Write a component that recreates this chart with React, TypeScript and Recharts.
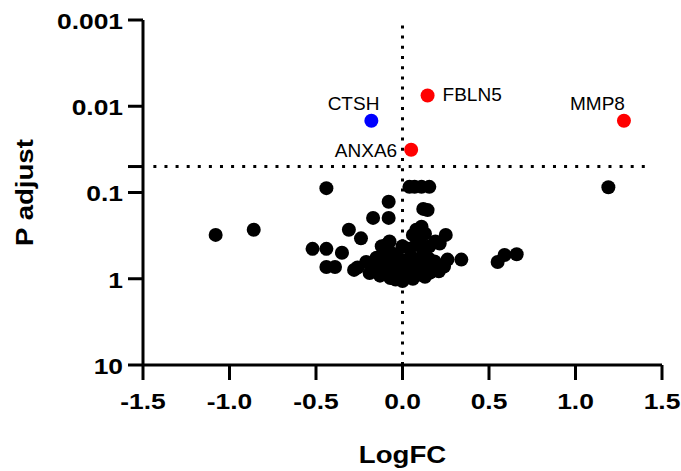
import { ReferenceLine, Scatter, ScatterChart, XAxis, YAxis } from "recharts";

// all genes (LogFC, adjusted p)
const logFC = [
  -1.08, -0.86, -0.44, 1.19, 0.04, 0.07, 0.11, 0.155, 0.12, 0.145,
  -0.08, -0.17, -0.08, -0.31, -0.24, -0.52, -0.44, -0.35, -0.44, -0.39,
  0.55, 0.59, 0.66, 0.26, 0.34, 0.25, 0.11, 0.08, 0.19, 0.215,
  0.155, 0.06, -0.075, -0.09, 0.185, -0.28, -0.19, -0.26, -0.21, -0.15,
  -0.16, -0.14, -0.13, -0.11, -0.1, -0.09, -0.08, -0.07, -0.06, -0.05,
  -0.04, -0.04, -0.03, -0.02, -0.01, 0.0, 0.01, 0.04, 0.02, 0.03,
  0.04, 0.05, 0.06, 0.07, 0.08, 0.09, 0.1, 0.11, 0.12, 0.13,
  0.14, 0.15, 0.16, 0.18, 0.21, 0.24, 0.1, 0.13, -0.12, 0.0,
];
const pAdjust = [
  0.31, 0.27, 0.089, 0.087, 0.086, 0.086, 0.086, 0.086, 0.155, 0.16,
  0.128, 0.197, 0.197, 0.27, 0.34, 0.45, 0.45, 0.5, 0.73, 0.73,
  0.64, 0.53, 0.52, 0.6, 0.6, 0.31, 0.25, 0.27, 0.37, 0.39,
  0.42, 0.31, 0.37, 0.4, 0.63, 0.79, 0.86, 0.74, 0.64, 0.57,
  0.8, 0.68, 0.92, 0.75, 0.55, 0.86, 0.47, 0.98, 0.66, 0.8,
  1.02, 0.52, 0.72, 0.9, 0.6, 1.06, 0.82, 0.45, 0.96, 0.68,
  0.88, 0.55, 1.0, 0.74, 0.4, 0.9, 0.62, 0.8, 0.48, 0.95,
  0.7, 0.58, 0.85, 0.76, 0.82, 0.72, 0.34, 0.3, 0.42, 0.42,
];

// highlighted genes
const geneNames = ["CTSH", "FBLN5", "MMP8", "ANXA6"];
const geneLogFC = [-0.18, 0.145, 1.28, 0.05];
const genePAdjust = [0.0147, 0.0075, 0.0147, 0.032];

const xTicks = [-1.5, -1.0, -0.5, 0.0, 0.5, 1.0, 1.5];
const yTicks = [0.001, 0.01, 0.05, 0.1, 1, 10];
const pCutoff = 0.05;

const FONT = '"Liberation Sans", Arial, sans-serif';
const STRETCH = 1.2;

// where each gene label sits relative to its dot
const labelPlace: Record<string, { dx: number; dy: number; anchor: "start" | "end" }> = {
  CTSH: { dx: 8, dy: -11, anchor: "end" },
  FBLN5: { dx: 15, dy: 6, anchor: "start" },
  MMP8: { dx: 1, dy: -11, anchor: "end" },
  ANXA6: { dx: -14, dy: 7, anchor: "end" },
};

const allData = logFC.map((x, i) => ({ x, p: pAdjust[i] }));
const geneData = geneNames.map((gene, i) => ({ gene, x: geneLogFC[i], p: genePAdjust[i] }));

function XTick({ x, y, payload }: any) {
  return (
    <g transform={`translate(${x},${y}) scale(${STRETCH},1)`}>
      <text textAnchor="middle" dy="0.72em" fontFamily={FONT} fontWeight="bold" fontSize={22} fill="#000">
        {Number(payload.value).toFixed(1)}
      </text>
    </g>
  );
}

function YTick({ x, y, payload }: any) {
  if (payload.value === pCutoff) return <g />;
  return (
    <g transform={`translate(${x},${y}) scale(${STRETCH},1)`}>
      <text textAnchor="end" dy="0.4em" fontFamily={FONT} fontWeight="bold" fontSize={22} fill="#000">
        {String(payload.value)}
      </text>
    </g>
  );
}

const blackDot = ({ cx, cy }: any) => <circle cx={cx} cy={cy} r={7} fill="#000" />;

const geneDot = ({ cx, cy, payload }: any) => {
  const pl = labelPlace[payload.gene];
  return (
    <g>
      <circle cx={cx} cy={cy} r={7} fill={payload.x < 0 ? "#0000ff" : "#ff0000"} />
      <text x={cx + pl.dx} y={cy + pl.dy} textAnchor={pl.anchor} fontFamily={FONT} fontSize={19} fill="#000">
        {payload.gene}
      </text>
    </g>
  );
};

const axisTitle = (text: string, vertical: boolean) => () => {
  const tf = vertical
    ? `translate(33,192.5) rotate(-90) scale(${STRETCH},1)`
    : `translate(402.5,463) scale(${STRETCH},1)`;
  return (
    <g transform={tf}>
      <text textAnchor="middle" fontFamily={FONT} fontWeight="bold" fontSize={23} fill="#000">{text}</text>
    </g>
  );
};

export default function App() {
  const axisStroke = { stroke: "#000", strokeWidth: 3 };
  return (
    <div>
      <style>{"body{margin:0}"}</style>
      <ScatterChart width={681} height={471} margin={{ top: 20, right: 19, bottom: 8, left: 8 }}>
        <XAxis
          dataKey="x" type="number" domain={[-1.5, 1.5]} ticks={xTicks} interval={0}
          height={98} tickSize={15} tickMargin={13}
          axisLine={axisStroke} tickLine={axisStroke} tick={<XTick />}
          label={axisTitle("LogFC", false)}
        />
        <YAxis
          dataKey="p" type="number" scale="log" domain={[0.001, 10]} ticks={yTicks} interval={0}
          reversed allowDataOverflow width={135} tickSize={15} tickMargin={5}
          axisLine={axisStroke} tickLine={axisStroke} tick={<YTick />}
          label={axisTitle("P adjust", true)}
        />
        <ReferenceLine x={0} stroke="#000" strokeWidth={3} strokeDasharray="3 7.2" />
        <ReferenceLine
          segment={[{ x: -1.44, y: pCutoff }, { x: 1.44, y: pCutoff }]}
          stroke="#000" strokeWidth={3} strokeDasharray="3 8.1"
        />
        <Scatter data={allData} shape={blackDot} isAnimationActive={false} />
        <Scatter data={geneData} shape={geneDot} isAnimationActive={false} />
      </ScatterChart>
    </div>
  );
}
